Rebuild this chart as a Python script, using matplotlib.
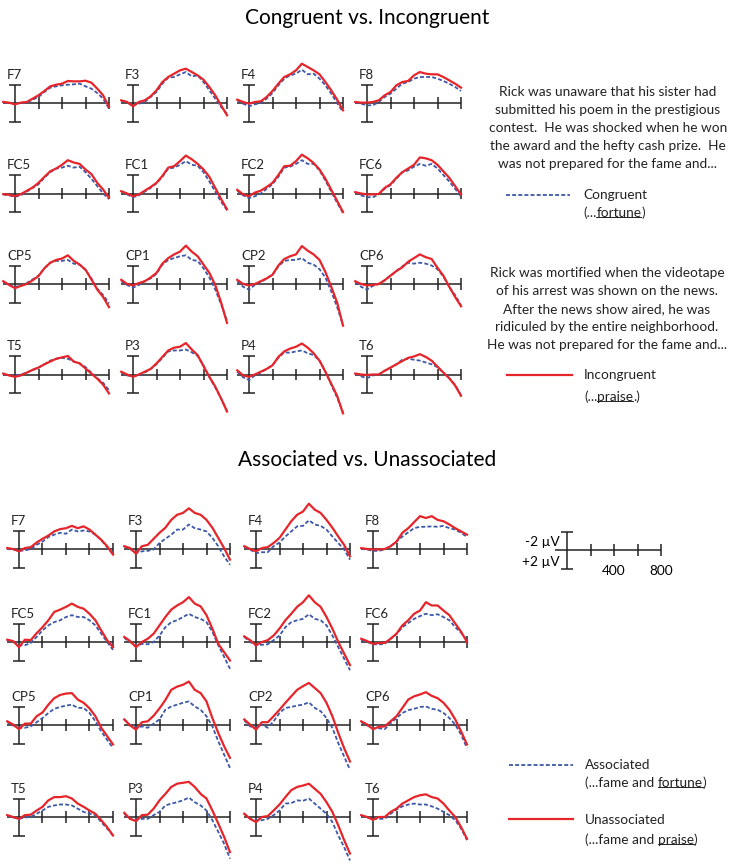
import matplotlib
matplotlib.use("Agg")
import matplotlib.pyplot as plt
from matplotlib.lines import Line2D

plt.rcParams['font.family'] = ['Lato', 'DejaVu Sans']

# sample times (ms) and electrode names
times = [-100, -50, 0, 50, 100, 150, 200, 250, 300, 350, 400, 450, 500, 550, 600, 650, 700, 750, 800]
channels = ["F7", "F3", "F4", "F8", "FC5", "FC1", "FC2", "FC6",
            "CP5", "CP1", "CP2", "CP6", "T5", "P3", "P4", "T6"]

# amplitudes in microvolts (negative plotted up)
congruent = [
    [-0.04, 0, 0.07, -0.04, -0.04, -0.36, -0.65, -1.19, -1.66, -1.80, -1.91, -1.98, -2.02, -2.09, -1.80, -1.55, -1.08, -0.47, 0.61],
    [-0.22, -0.04, 0.25, 0.07, -0.11, -0.65, -1.19, -2.09, -2.74, -2.81, -3.10, -3.35, -2.88, -2.99, -2.27, -1.37, -0.47, 0.43, 1.15],
    [-0.29, 0.07, 0.36, 0.14, 0, -0.47, -1.08, -1.91, -2.63, -2.99, -3.17, -3.60, -3.10, -3.17, -2.63, -1.91, -1.01, 0, 0.97],
    [-0.04, 0.07, 0.25, 0.25, -0.11, -0.65, -1.01, -1.55, -2.09, -2.27, -2.63, -2.81, -2.81, -2.81, -2.63, -2.38, -2.09, -1.73, -1.30],
    [0.1, 0.2, 0.35, 0.2, -0.2, -0.6, -1.0, -1.7, -2.3, -2.7, -2.8, -3.0, -2.8, -2.9, -2.3, -1.6, -0.8, 0, 0.6],
    [-0.2, 0.1, 0.4, 0.2, -0.2, -0.6, -1.1, -1.8, -2.7, -2.8, -3.1, -3.5, -3.1, -3.0, -2.3, -1.3, -0.2, 0.9, 1.8],
    [-0.3, 0.2, 0.5, 0.3, 0, -0.5, -1.0, -1.8, -2.8, -2.9, -3.2, -3.6, -3.2, -3.2, -2.5, -1.4, -0.2, 1.0, 2.1],
    [-0.1, 0.2, 0.4, 0.4, 0.1, -0.5, -0.9, -1.6, -2.3, -2.5, -2.9, -3.2, -3.0, -3.2, -2.7, -2.0, -1.3, -0.5, 0.3],
    [-0.2, 0.1, 0.3, 0.2, -0.1, -0.5, -0.9, -1.7, -2.3, -2.5, -2.5, -2.6, -2.2, -2.1, -1.5, -0.6, 0.5, 1.2, 2.1],
    [-0.3, 0.1, 0.4, 0.1, -0.3, -0.6, -1.1, -2.1, -2.6, -2.8, -3.0, -3.1, -2.6, -2.5, -1.7, -0.7, 0.6, 2.2, 4.0],
    [-0.3, 0.3, 0.6, 0.1, -0.2, -0.6, -1.0, -1.9, -2.5, -2.6, -2.6, -2.8, -2.3, -2.1, -1.6, -0.7, 0.8, 2.5, 4.4],
    [-0.2, 0.3, 0.6, 0.2, 0.0, -0.4, -0.9, -1.4, -1.9, -2.3, -2.2, -2.3, -2.2, -2.0, -1.6, -0.8, 0.3, 1.2, 2.3],
    [0.0, 0.1, 0.1, 0.0, -0.2, -0.5, -0.75, -1.1, -1.5, -1.7, -1.8, -1.7, -1.4, -1.2, -0.8, -0.2, 0.4, 0.9, 1.7],
    [-0.2, 0.1, 0.2, 0.1, -0.2, -0.6, -1.1, -1.8, -2.5, -2.6, -2.6, -2.7, -2.4, -2.0, -1.0, 0.3, 1.4, 2.6, 3.9],
    [-0.3, 0.3, 0.6, 0.1, -0.2, -0.6, -1.0, -1.8, -2.4, -2.35, -2.5, -2.6, -2.3, -2.1, -1.5, -0.3, 1.1, 2.5, 4.1],
    [-0.1, 0.2, 0.4, 0.1, 0.0, -0.4, -0.7, -1.1, -1.6, -1.7, -1.6, -1.5, -1.3, -1.1, -0.8, -0.2, 0.4, 1.1, 2.2],
]
incongruent = [
    [-0.11, -0.04, 0.14, -0.04, -0.11, -0.47, -0.83, -1.30, -1.80, -1.98, -2.09, -2.38, -2.34, -2.34, -2.41, -2.20, -1.55, -0.83, 0.43],
    [-0.29, -0.11, 0.36, -0.11, -0.29, -0.72, -1.37, -2.27, -2.81, -3.17, -3.53, -3.71, -3.35, -2.99, -2.52, -1.73, -0.83, 0.25, 1.33],
    [-0.36, -0.11, 0.07, -0.11, -0.18, -0.65, -1.30, -2.09, -2.81, -3.10, -3.53, -4.25, -3.89, -3.53, -3.10, -2.27, -1.37, -0.36, 0.79],
    [-0.11, -0.04, -0.04, -0.11, -0.29, -0.83, -1.19, -1.91, -2.27, -2.38, -2.99, -3.35, -3.17, -3.10, -3.10, -2.81, -2.45, -2.09, -1.66],
    [0.07, 0.14, 0.29, 0.07, -0.29, -0.65, -1.15, -1.8, -2.4, -2.7, -3.1, -3.6, -3.35, -3.2, -2.6, -2.1, -1.15, -0.43, 0.47],
    [-0.25, 0, 0.3, 0.1, -0.3, -0.7, -1.15, -1.9, -2.8, -2.95, -3.5, -4.1, -3.7, -3.2, -2.6, -1.8, -0.6, 0.6, 1.7],
    [-0.4, 0.1, 0.3, -0.1, -0.3, -0.7, -1.15, -2.0, -2.95, -3.0, -3.5, -4.2, -3.8, -3.3, -2.6, -1.6, -0.4, 0.8, 2.0],
    [-0.15, 0, 0.1, 0.1, 0.05, -0.6, -1.0, -1.7, -2.3, -2.7, -3.1, -3.9, -3.8, -3.6, -3.1, -2.4, -1.7, -0.8, 0.1],
    [-0.3, 0.1, 0.45, 0.2, 0.0, -0.4, -0.85, -1.7, -2.3, -2.6, -2.75, -3.1, -2.5, -2.1, -1.55, -0.5, 0.6, 1.4, 2.5],
    [-0.45, 0, 0.15, -0.1, -0.3, -0.7, -1.2, -2.2, -2.8, -3.2, -3.5, -4.15, -3.5, -3.0, -2.1, -1.2, 0.1, 2.0, 4.2],
    [-0.45, 0, 0.15, 0.0, -0.3, -0.6, -1.0, -2.0, -2.7, -3.0, -3.2, -4.1, -3.6, -3.2, -2.6, -1.3, 0.3, 2.0, 4.5],
    [-0.3, 0, 0.15, 0.1, 0.0, -0.4, -0.9, -1.4, -1.8, -2.4, -2.8, -3.2, -2.9, -2.7, -1.75, -0.9, 0.3, 1.4, 2.4],
    [-0.1, 0.1, 0.25, 0.1, -0.2, -0.5, -0.75, -1.1, -1.4, -1.7, -1.85, -2.0, -1.4, -1.2, -0.65, -0.1, 0.45, 1.1, 2.05],
    [-0.3, 0, 0.25, 0.0, -0.3, -0.6, -1.2, -1.9, -2.6, -2.9, -3.0, -3.4, -2.7, -2.1, -0.9, 0.25, 1.3, 2.6, 4.0],
    [-0.45, 0.1, 0.25, 0.0, -0.3, -0.6, -1.0, -1.9, -2.5, -2.8, -3.0, -3.35, -2.9, -2.3, -1.5, -0.3, 1.0, 2.3, 4.2],
    [-0.1, 0, 0.05, 0.0, 0.0, -0.4, -0.75, -1.1, -1.45, -1.8, -1.95, -2.2, -1.9, -1.5, -0.85, -0.2, 0.4, 1.2, 2.3],
]
associated = [
    [0, 0.05, 0.2, 0.15, 0, -0.45, -0.8, -1.3, -1.55, -1.75, -1.65, -2.1, -1.9, -2.0, -1.9, -1.55, -0.95, -0.2, 0.5],
    [-0.3, 0, 0.45, 0.25, 0.2, 0.05, -0.65, -1.1, -1.55, -2.1, -2.1, -2.65, -2.25, -2.1, -1.9, -1.2, -0.3, 0.8, 1.7],
    [-0.2, 0.05, 0.45, 0.35, 0.35, -0.3, -0.7, -1.35, -1.9, -2.45, -2.5, -3.1, -2.65, -2.5, -2.1, -1.35, -0.65, 0.05, 1.15],
    [0, 0.05, 0.2, 0.2, 0.05, -0.3, -0.8, -1.35, -1.8, -2.25, -2.4, -2.4, -2.45, -2.4, -2.5, -2.25, -2.1, -1.75, -1.3],
    [-0.2, 0, 0.35, 0.35, 0.1, -0.55, -1.25, -1.8, -2.15, -2.35, -2.7, -2.9, -2.7, -2.7, -2.35, -1.8, -0.9, 0, 0.85],
    [-0.45, 0, 0.45, 0.2, 0.25, 0, -0.7, -1.6, -2.15, -2.35, -2.7, -3.05, -2.7, -2.5, -2.15, -1.1, 0.35, 1.6, 2.9],
    [-0.55, 0, 0.35, 0.3, 0.25, -0.2, -0.7, -1.6, -2.15, -2.35, -2.5, -3.0, -2.5, -2.35, -1.8, -0.7, 0.55, 1.8, 3.05],
    [-0.2, 0, 0.25, 0.25, 0.2, -0.35, -0.85, -1.6, -2.05, -2.5, -2.8, -3.05, -2.9, -3.0, -2.7, -2.35, -1.6, -1.0, -0.2],
    [-0.3, 0.05, 0.3, 0.3, 0.15, -0.3, -0.75, -1.3, -1.75, -1.95, -2.1, -2.2, -1.85, -1.85, -1.3, -0.4, 0.7, 1.6, 2.5],
    [-0.6, 0, 0.3, 0.15, 0.3, -0.15, -0.6, -1.65, -2.0, -2.2, -2.4, -2.55, -2.0, -1.65, -0.95, 0.15, 1.75, 3.2, 4.65],
    [-0.5, 0.15, 0.3, -0.05, 0.3, -0.4, -1.3, -1.85, -1.95, -2.1, -2.2, -2.45, -1.85, -1.5, -0.75, 0.3, 1.95, 3.4, 4.85],
    [-0.3, 0.05, 0.35, 0.35, 0.45, -0.2, -0.75, -1.3, -1.6, -1.75, -1.95, -2.0, -1.75, -1.65, -1.3, -0.75, -0.05, 1.05, 2.5],
    [-0.1, 0.05, 0.2, 0.05, 0, -0.35, -0.7, -1.1, -1.25, -1.35, -1.35, -1.25, -0.9, -0.55, -0.35, -0.2, 0.55, 1.25, 2.0],
    [-0.35, 0.2, 0.3, 0.2, 0.2, -0.2, -0.55, -1.25, -1.45, -1.6, -1.8, -2.1, -1.6, -1.25, -0.7, 0.35, 1.6, 2.9, 4.5],
    [-0.35, 0.2, 0.35, 0.35, 0.2, -0.2, -0.7, -1.45, -1.5, -1.8, -1.75, -2.0, -1.45, -0.9, -0.35, 0.55, 2.0, 3.25, 4.7],
    [-0.1, 0.05, 0.2, 0.2, 0.2, -0.35, -0.8, -1.15, -1.35, -1.45, -1.35, -1.35, -1.15, -0.9, -0.55, -0.2, 0.35, 1.25, 2.5],
]
unassociated = [
    [-0.1, 0, 0.25, -0.1, -0.2, -0.7, -1.1, -1.45, -1.9, -2.15, -2.25, -2.5, -2.25, -2.45, -2.1, -1.55, -1.0, -0.3, 0.6],
    [-0.3, -0.1, 0.5, -0.3, -0.45, -1.1, -1.75, -2.3, -3.15, -3.7, -3.9, -4.4, -3.9, -3.7, -3.15, -2.3, -1.2, -0.1, 1.15],
    [-0.3, 0, 0.25, -0.1, -0.2, -0.65, -1.2, -2.1, -3.0, -3.7, -4.05, -4.9, -4.25, -3.9, -3.15, -2.3, -1.35, -0.45, 0.8],
    [-0.1, 0, 0.05, 0.05, 0, -0.3, -0.8, -1.75, -2.25, -2.9, -3.55, -3.35, -3.55, -3.15, -3.0, -2.65, -2.25, -1.9, -1.55],
    [-0.25, -0.1, 0.55, -0.25, -0.2, -0.95, -1.6, -2.35, -3.25, -3.5, -3.8, -4.15, -3.8, -3.6, -3.05, -2.35, -1.25, -0.2, 0.55],
    [-0.55, -0.1, 0.55, 0, -0.35, -0.9, -1.8, -2.7, -3.5, -3.95, -4.3, -4.85, -4.15, -3.85, -2.9, -1.45, 0.2, 1.1, 2.0],
    [-0.6, -0.2, 0.35, 0, -0.2, -0.7, -1.45, -2.35, -3.05, -3.8, -4.3, -5.05, -4.3, -3.8, -2.7, -1.45, 0, 1.25, 2.5],
    [-0.35, -0.1, 0.2, 0.1, 0.1, -0.35, -0.9, -1.8, -2.35, -3.05, -3.4, -4.3, -3.95, -3.95, -3.4, -2.9, -2.0, -1.1, 0],
    [-0.4, -0.05, 0.45, -0.15, -0.15, -0.95, -1.35, -2.2, -2.9, -3.25, -3.4, -3.45, -2.75, -2.4, -1.8, -0.95, 0.3, 1.2, 2.1],
    [-0.6, 0.05, 0.5, -0.3, -0.4, -1.0, -1.8, -2.7, -3.8, -4.15, -4.35, -4.7, -3.8, -3.45, -2.55, -0.75, 0.85, 2.3, 3.55],
    [-0.6, -0.05, 0.5, -0.3, -0.3, -0.95, -1.65, -2.4, -3.1, -3.8, -4.2, -4.55, -4.0, -3.45, -2.4, -0.95, 0.85, 2.5, 3.95],
    [-0.4, -0.05, 0.45, 0.2, 0.15, -0.4, -0.95, -1.85, -2.75, -3.1, -3.3, -3.55, -3.15, -2.9, -2.4, -1.65, -0.6, 0.7, 2.1],
    [-0.2, 0, 0.2, -0.2, -0.25, -0.7, -1.1, -1.8, -2.15, -2.15, -2.25, -2.0, -1.45, -1.1, -0.7, -0.35, 0.35, 1.1, 2.0],
    [-0.45, 0.2, 0.45, -0.2, -0.25, -0.9, -1.8, -2.5, -3.25, -3.6, -3.7, -3.8, -3.25, -2.5, -2.0, -0.7, 0.7, 2.15, 3.8],
    [-0.35, 0.2, 0.55, 0, -0.1, -0.7, -1.35, -2.15, -2.9, -3.25, -3.4, -3.6, -3.05, -2.5, -1.6, -0.55, 0.9, 2.5, 3.95],
    [-0.2, 0, 0.3, 0, 0, -0.55, -0.9, -1.45, -1.8, -2.15, -2.35, -2.45, -2.15, -2.0, -1.45, -0.7, 0, 1.1, 2.35],
]

W, H = 734, 864
RED = '#e6252a'
BLUE = '#3c58a8'
PX_MS = 94 / 800.0   # pixels per ms
PX_UV = 9.25         # pixels per microvolt

fig = plt.figure(figsize=(W / 100, H / 100), dpi=100)


def erp_axes(ox, base):
    # axes whose data origin (0 ms, 0 uV) sits at pixel (ox, base)
    x0, x1, y0 = -110, 810, 6
    left = ox + x0 * PX_MS
    top = base - y0 * PX_UV
    ax = fig.add_axes([left / W, 1 - (top + 2 * y0 * PX_UV) / H,
                       (x1 - x0) * PX_MS / W, 2 * y0 * PX_UV / H])
    ax.set_xlim(x0, x1)
    ax.set_ylim(y0, -y0)
    ax.axis('off')
    k = dict(color='#222222', lw=1.1, clip_on=False, solid_capstyle='butt')
    ax.plot([-100, 800], [0, 0], **k)
    ax.plot([0, 0], [-2, 2], **k)
    ax.plot([-52, 52], [-2, -2], **k)
    ax.plot([-52, 52], [2, 2], **k)
    for t in [200, 400, 600, 800]:
        ax.plot([t, t], [-0.6, 0.6], **k)
    return ax


def section(cols, rows, blue, red):
    for i, ch in enumerate(channels):
        ax = erp_axes(cols[i % 4], rows[i // 4])
        ax.plot(times, blue[i], color=BLUE, lw=1.3, ls=(0, (2.2, 1.2)), clip_on=False)
        ax.plot(times, red[i], color=RED, lw=1.6, clip_on=False)
        ax.text(-68, -3.05, ch, fontsize=9.5, ha='left', va='center', color='#222222')


section([15, 133, 249, 367], [103, 193.5, 284, 374.5], congruent, incongruent)
section([19, 136, 256, 373], [549, 642, 725, 817], associated, unassociated)

# scale bar
sax = erp_axes(567, 550)
sax.text(-60, -0.9, '-2 µV', fontsize=9.8, ha='right', va='center')
sax.text(-60, 1.3, '+2 µV', fontsize=9.8, ha='right', va='center')
sax.text(400, 2.3, '400', fontsize=9.8, ha='center', va='center')
sax.text(800, 2.3, '800', fontsize=9.8, ha='center', va='center')


def ftext(x, y, s, **kw):
    return fig.text(x / W, 1 - y / H, s, **kw)


ftext(367, 18, 'Congruent vs. Incongruent', fontsize=15, ha='center', va='center')
ftext(367, 460, 'Associated vs. Unassociated', fontsize=15, ha='center', va='center')

para1 = ["Rick was unaware that his sister had",
         "submitted his poem in the prestigious",
         "contest.  He was shocked when he won",
         "the award and the hefty cash prize.  He",
         "was not prepared for the fame and..."]
para2 = ["Rick was mortified when the videotape",
         "of his arrest was shown on the news.",
         "After the news show aired, he was",
         "ridiculed by the entire neighborhood.",
         "He was not prepared for the fame and..."]
FS = 9.8
for j, line in enumerate(para1):
    ftext(608, 92 + 18 * j, line, fontsize=FS, ha='center', va='center', color='#222222')
for j, line in enumerate(para2):
    ftext(607, 273 + 18 * j, line, fontsize=FS, ha='center', va='center', color='#222222')

renderer = fig.canvas.get_renderer()


def parts_text(x, y, parts):
    cx = x
    for s, ul in parts:
        t = ftext(cx, y, s, fontsize=FS, ha='left', va='center', color='#222222')
        bb = t.get_window_extent(renderer)
        if ul:
            uy = bb.y0 + 2.2
            fig.add_artist(Line2D([bb.x0 / W, bb.x1 / W], [uy / H, uy / H],
                                  color='#222222', lw=0.7))
        cx += bb.width


def key(x0, x1, y, color, dashed):
    ls = (0, (2.2, 1.2)) if dashed else '-'
    fig.add_artist(Line2D([x0 / W, x1 / W], [1 - y / H, 1 - y / H],
                          color=color, lw=1.3 if dashed else 1.6, ls=ls))


key(506, 570, 195, BLUE, True)
ftext(583, 195, 'Congruent', fontsize=FS, ha='left', va='center', color='#222222')
parts_text(583, 213, [('(...', False), ('fortune', True), (')', False)])

key(507, 572, 375, RED, False)
ftext(584, 375, 'Incongruent', fontsize=FS, ha='left', va='center', color='#222222')
parts_text(584, 397, [('(...', False), ('praise', True), ('.)', False)])

key(509, 573, 765, BLUE, True)
ftext(585, 765, 'Associated', fontsize=FS, ha='left', va='center', color='#222222')
parts_text(585, 783, [('(...fame and ', False), ('fortune', True), (')', False)])

key(509, 573, 819, RED, False)
ftext(585, 820, 'Unassociated', fontsize=FS, ha='left', va='center', color='#222222')
parts_text(585, 840, [('(...fame and ', False), ('praise', True), (')', False)])

fig.savefig('out.png', dpi=100)
